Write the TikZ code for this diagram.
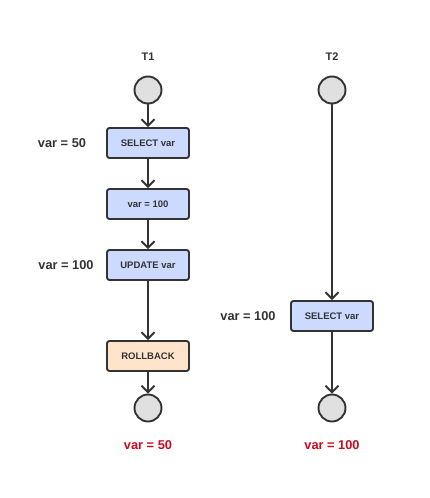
\documentclass[tikz,border=0pt]{standalone}
\usepackage{fontspec}
\setmainfont{Liberation Sans}
\usetikzlibrary{arrows.meta,positioning}
\definecolor{txink}{HTML}{333333}
\definecolor{txblue}{HTML}{CCDAFF}
\definecolor{txpeach}{HTML}{FFE4CC}
\definecolor{txgrey}{HTML}{E0E0E0}
\definecolor{txred}{HTML}{CC0A1E}
\tikzset{
  op/.style={draw=txink, line width=1.9pt, rounded corners=2.5pt, fill=txblue, minimum width=82pt, minimum height=30pt, inner sep=2pt, font=\fontsize{9.5}{11}\selectfont\bfseries, text=txink},
  undo/.style={op, fill=txpeach},
  ends/.style={circle, draw=txink, line width=1.9pt, fill=txgrey, minimum size=27pt, inner sep=0pt},
  flow/.style={-{Straight Barb[length=6.5pt, width=13pt, line width=1.9pt]}, line width=1.9pt, color=txink},
  val/.style={font=\fontsize{12.8}{15}\selectfont\bfseries, text=txink},
  hd/.style={font=\fontsize{11}{13}\selectfont\bfseries, text=txink},
  res/.style={font=\fontsize{12.8}{15}\selectfont\bfseries, text=txred},
}

\begin{document}
\begin{tikzpicture}[x=1pt, y=-1pt]
  \useasboundingbox[fill=white] (0,0) rectangle (430,498);
  % transaction 1
  \node[hd] (t1) at (148,57) {T1};
  \node[ends] (s1) at (148,90) {};
  \node[op] (sel1) at (148,143) {SELECT var};
  \node[op] (set1) at (148,204) {var = 100};
  \node[op] (upd1) at (148,265) {UPDATE var};
  \node[undo] (rb1) at (148,356) {ROLLBACK};
  \node[ends] (e1) at (148,408) {};
  \node[val] (v50) at (62,143) {var = 50};
  \node[val] (v100) at (66,265) {var = 100};
  \node[res] (r1) at (148,445) {var = 50};
  % transaction 2
  \node[hd] (t2) at (332,57) {T2};
  \node[ends] (s2) at (332,90) {};
  \node[op] (sel2) at (332,316) {SELECT var};
  \node[ends] (e2) at (332,408) {};
  \node[val] (v2) at (248,316) {var = 100};
  \node[res] (r2) at (332,445) {var = 100};
  % arrows
  \draw[flow] (s1) -- (sel1);
  \draw[flow] (sel1) -- (set1);
  \draw[flow] (set1) -- (upd1);
  \draw[flow] (upd1) -- (rb1);
  \draw[flow] (rb1) -- (e1);
  \draw[flow] (s2) -- (sel2);
  \draw[flow] (sel2) -- (e2);
\end{tikzpicture}
\end{document}
